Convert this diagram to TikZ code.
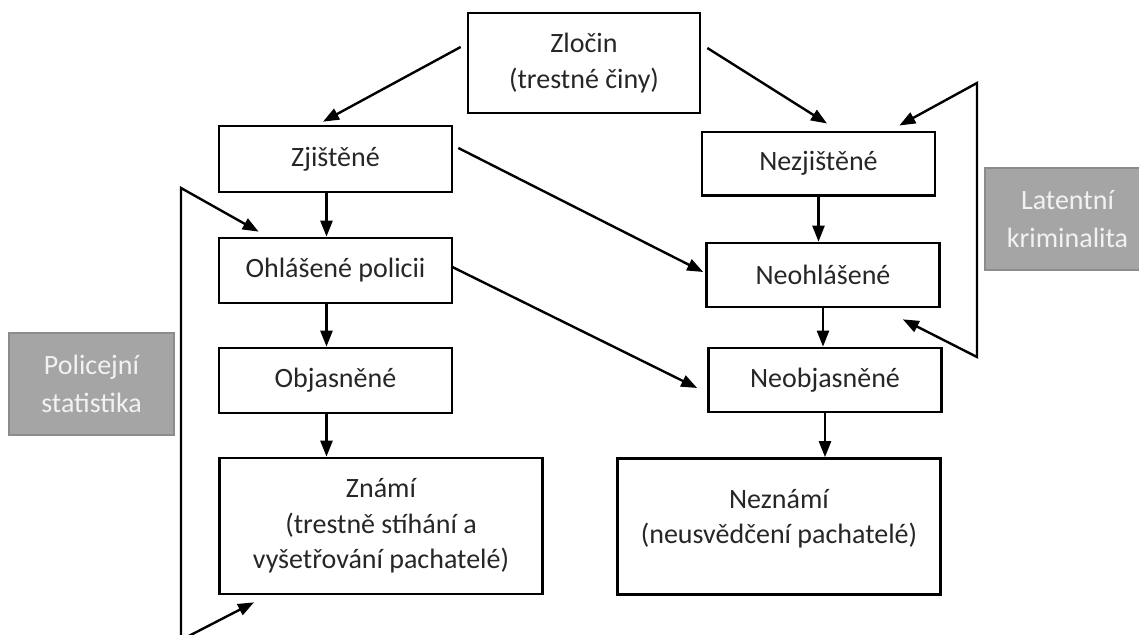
\documentclass[tikz,border=0pt]{standalone}
\usepackage{fontspec}
\setmainfont{Carlito}
\usepackage{xcolor}
\usetikzlibrary{
  arrows.meta,
  positioning,
  calc}
\definecolor{taggray}{HTML}{A5A5A5}
\definecolor{tagedge}{HTML}{8C8C8C}
\tikzset{every picture/.style={font issue=\fontsize{21pt}{26.5pt}},
         font issue/.style={execute at begin picture={#1\selectfont}}
        }
\tikzset{
  stage/.style={draw, line width=2pt, align=center, text=black!85,
    minimum width=174.75pt, minimum height=48.75pt, inner sep=0pt},
  tall/.style={minimum width=242.5pt, minimum height=102pt},
  tag/.style={draw=tagedge, fill=taggray, line width=1.5pt, align=center,
    text=white!95!black, minimum width=123.75pt, minimum height=76.5pt,
    inner sep=0pt, font=\fontsize{21pt}{29pt}\selectfont},
  arr/.style={line width=1.8pt, -{Triangle[length=12pt,width=9pt]}},
  both/.style={line width=1.8pt, {Triangle[length=12pt,width=9pt]}-{Triangle[length=12pt,width=9pt]}}
}
\begin{document}
\begin{tikzpicture}[x=0.75pt, y=-0.75pt]
\useasboundingbox (0,0) rectangle (1139,635);

%boxes
\node[stage, minimum width=174pt, minimum height=75pt] (zlocin) at (584,63) {Zločin\\(trestné činy)};

\node[stage, minimum height=49.5pt] (zjistene) at (335.5,159) {Zjištěné};
\node[stage] (ohlasene) at (335.5,270.5) {Ohlášené policii};
\node[stage] (objasnene) at (335.5,380.5) {Objasněné};
\node[stage, tall] (znami) at (381,526) {Známí\\(trestně stíhání a\\vyšetřování pachatelé)};

\node[stage, minimum height=47.5pt] (nezjistene) at (818.5,163.5) {Nezjištěné};
\node[stage, minimum height=48pt] (neohlasene) at (823,275) {Neohlášené};
\node[stage, minimum height=48pt] (neobjasnene) at (825,380) {Neobjasněné};
\node[stage, tall] (neznami) at (779,526.5) {};
\node[align=center, text=black!85] (neznamitext) at (779,518.5) {Neznámí\\(neusvědčení pachatelé)};

\node[tag] (policejni) at (91.5,384) {Policejní\\statistika};
\node[tag] (latentni) at (1067.5,219) {Latentní\\kriminalita};

%arrows
\draw[arr] ($(zlocin.west)+(-6,-16)$) -- ($(zjistene.north)+(-12.5,-3)$);
\draw[arr] ($(zlocin.east)+(6,-15)$) -- ($(nezjistene.north)+(8.5,-7)$);

\foreach \a/\b in {zjistene/ohlasene, ohlasene/objasnene, objasnene/znami}{
  \coordinate (\a-out) at ([xshift=-6.75pt]\a.south);
  \draw[arr] (\a-out) -- (\a-out |- \b.north);
}
\foreach \a/\b in {nezjistene/neohlasene, neohlasene/neobjasnene, neobjasnene/neznami}
  \draw[arr] (\a.south) -- (\a.south |- \b.north);

\draw[arr] ($(zjistene.east)+(5,-11)$) -- ($(neohlasene.west)+(-2,-3)$);
\draw[arr] ($(ohlasene.east)+(-2,-4)$) -- ($(neobjasnene.west)+(-10,8)$);

%brackets
\coordinate (rtop) at (977,83);
\coordinate (rbot) at (977,357);
\coordinate (ltop) at (181,188);
\coordinate (lbot) at (181,640);

\draw[both] ($(nezjistene.north east)+(-37,-5)$) -- (rtop) -- (rbot) -- ($(neohlasene.south east)+(-38,11)$);
\draw[both] ($(ohlasene.north west)+(41,-5)$) -- (ltop) -- (lbot) -- ($(znami.south west)+(36,7)$);

\end{tikzpicture}
\end{document}
